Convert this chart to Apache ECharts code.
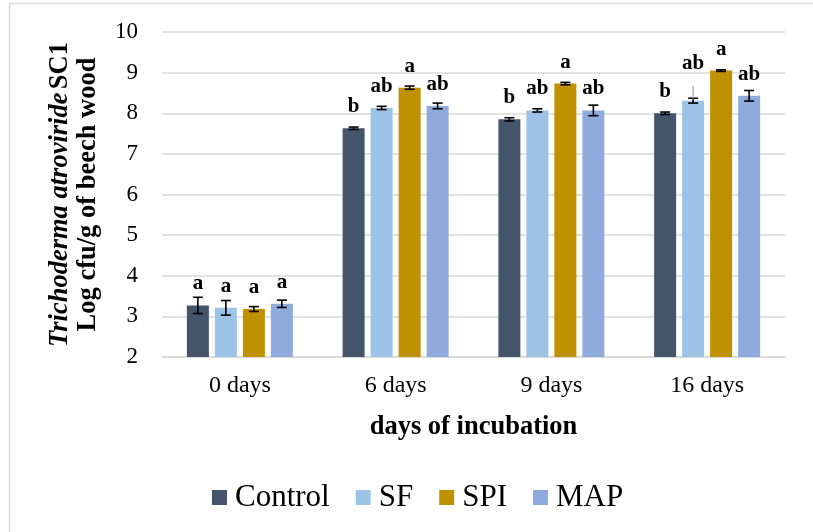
<!DOCTYPE html>
<html>
<head>
<meta charset="utf-8">
<style>
  html, body { margin: 0; padding: 0; background: #ffffff; }
  #chart { width: 813px; height: 532px; }
</style>
<script src="https://cdn.jsdelivr.net/npm/echarts@6/dist/echarts.min.js"></script>
</head>
<body>
<div id="chart"></div>
<script>
// Incubation time points
const categories = ['0 days', '6 days', '9 days', '16 days'];
const seriesNames = ['Control', 'SF', 'SPI', 'MAP'];

// Mean log cfu/g per treatment
const controlValues = [3.27, 7.63, 7.85, 8.00];
const sfValues      = [3.21, 8.13, 8.07, 8.31];
const spiValues     = [3.18, 8.63, 8.73, 9.05];
const mapValues     = [3.31, 8.18, 8.07, 8.43];

// Standard errors
const controlErrors = [0.20, 0.03, 0.04, 0.03];
const sfErrors      = [0.18, 0.04, 0.04, 0.06];
const spiErrors     = [0.06, 0.04, 0.03, 0.02];
const mapErrors     = [0.09, 0.07, 0.13, 0.13];

// Significance letters
const controlLetters = ['a', 'b', 'b', 'b'];
const sfLetters      = ['a', 'ab', 'ab', 'ab'];
const spiLetters     = ['a', 'a', 'a', 'a'];
const mapLetters     = ['a', 'ab', 'ab', 'ab'];

// Y axis tick range
const yMin = 2, yMax = 10, yStep = 1;

const colors = ['#44546a', '#9dc3e6', '#bf9000', '#8faadc'];
const values = [controlValues, sfValues, spiValues, mapValues];
const errors = [controlErrors, sfErrors, spiErrors, mapErrors];
const letters = [controlLetters, sfLetters, spiLetters, mapLetters];

const BAR_W = 22, BAR_GAP = 6;
const SERIF = '"Liberation Serif", "Times New Roman", serif';
// letter label lifted above a leader line (SF, 16 days)
const liftedLabel = { series: 1, index: 3, lift: 16 };

const chart = echarts.init(document.getElementById('chart'), null, { renderer: 'canvas' });

const barSeries = seriesNames.map((name, k) => ({
  name: name,
  type: 'bar',
  barWidth: BAR_W,
  barGap: (BAR_GAP / BAR_W * 100) + '%',
  itemStyle: { color: colors[k] },
  data: values[k].map((v, i) => {
    const item = { value: v };
    if (liftedLabel.series === k && liftedLabel.index === i) {
      item.label = { distance: 11 + liftedLabel.lift };
    }
    return item;
  }),
  label: {
    show: true,
    position: 'top',
    distance: 11,
    fontFamily: SERIF,
    fontWeight: 'bold',
    fontSize: 21,
    color: '#000',
    formatter: p => letters[k][p.dataIndex]
  },
  z: 2
}));

const errorSeries = seriesNames.map((name, k) => ({
  name: name,
  type: 'custom',
  silent: true,
  z: 5,
  data: values[k].map((v, i) => [i, v, errors[k][i]]),
  renderItem: function (params, api) {
    const i = api.value(0), v = api.value(1), e = api.value(2);
    const dx = (k - 1.5) * (BAR_W + BAR_GAP);
    const top = api.coord([i, v + e]);
    const bot = api.coord([i, v - e]);
    const x = top[0] + dx;
    const cap = 5;
    const style = { stroke: '#000', lineWidth: 1.6 };
    const children = [
      { type: 'line', shape: { x1: x, y1: top[1], x2: x, y2: bot[1] }, style: style },
      { type: 'line', shape: { x1: x - cap, y1: top[1], x2: x + cap, y2: top[1] }, style: style },
      { type: 'line', shape: { x1: x - cap, y1: bot[1], x2: x + cap, y2: bot[1] }, style: style }
    ];
    if (liftedLabel.series === k && liftedLabel.index === i) {
      const barTop = api.coord([i, v]);
      children.push({
        type: 'line',
        shape: { x1: x, y1: barTop[1] - 2, x2: x, y2: barTop[1] - 15 },
        style: { stroke: '#a6a6a6', lineWidth: 1.3 }
      });
    }
    return { type: 'group', children: children };
  }
}));

chart.setOption({
  animation: false,
  backgroundColor: '#ffffff',
  graphic: [{
    type: 'rect',
    shape: { x: 9.5, y: 3.5, width: 820, height: 540 },
    style: { fill: 'none', stroke: '#d9d9d9', lineWidth: 1.5 },
    silent: true
  }],
  grid: { left: 162, right: 28, top: 32, bottom: 175 },
  legend: {
    data: seriesNames,
    bottom: 14,
    left: 207,
    itemWidth: 15,
    itemHeight: 15,
    itemGap: 26,
    icon: 'rect',
    textStyle: { fontFamily: SERIF, fontSize: 31, color: '#000', padding: [0, 0, 0, 3] }
  },
  xAxis: {
    type: 'category',
    data: categories,
    name: 'days of incubation',
    nameLocation: 'middle',
    nameGap: 57,
    nameTextStyle: { fontFamily: SERIF, fontWeight: 'bold', fontSize: 26.5, color: '#000' },
    axisLine: { show: true, lineStyle: { color: '#d9d9d9', width: 1.5 } },
    axisTick: { show: false },
    axisLabel: { fontFamily: SERIF, fontSize: 24, color: '#000', margin: 17 }
  },
  yAxis: {
    type: 'value',
    min: yMin,
    max: yMax,
    interval: yStep,
    name: '{i|Trichoderma atroviride} {b|SC1}\n{b|Log cfu/g of beech wood}',
    nameLocation: 'middle',
    nameRotate: 90,
    nameGap: 60,
    nameTextStyle: {
      lineHeight: 28,
      rich: {
        i: { fontFamily: SERIF, fontWeight: 'bold', fontStyle: 'italic', fontSize: 26.5, color: '#000', lineHeight: 28 },
        b: { fontFamily: SERIF, fontWeight: 'bold', fontSize: 26.5, color: '#000', lineHeight: 28 }
      }
    },
    axisLine: { show: false },
    axisTick: { show: false },
    splitLine: { show: true, lineStyle: { color: '#d9d9d9', width: 1.5 } },
    axisLabel: { fontFamily: SERIF, fontSize: 23, color: '#000', margin: 24 }
  },
  series: barSeries.concat(errorSeries)
});
</script>
</body>
</html>
